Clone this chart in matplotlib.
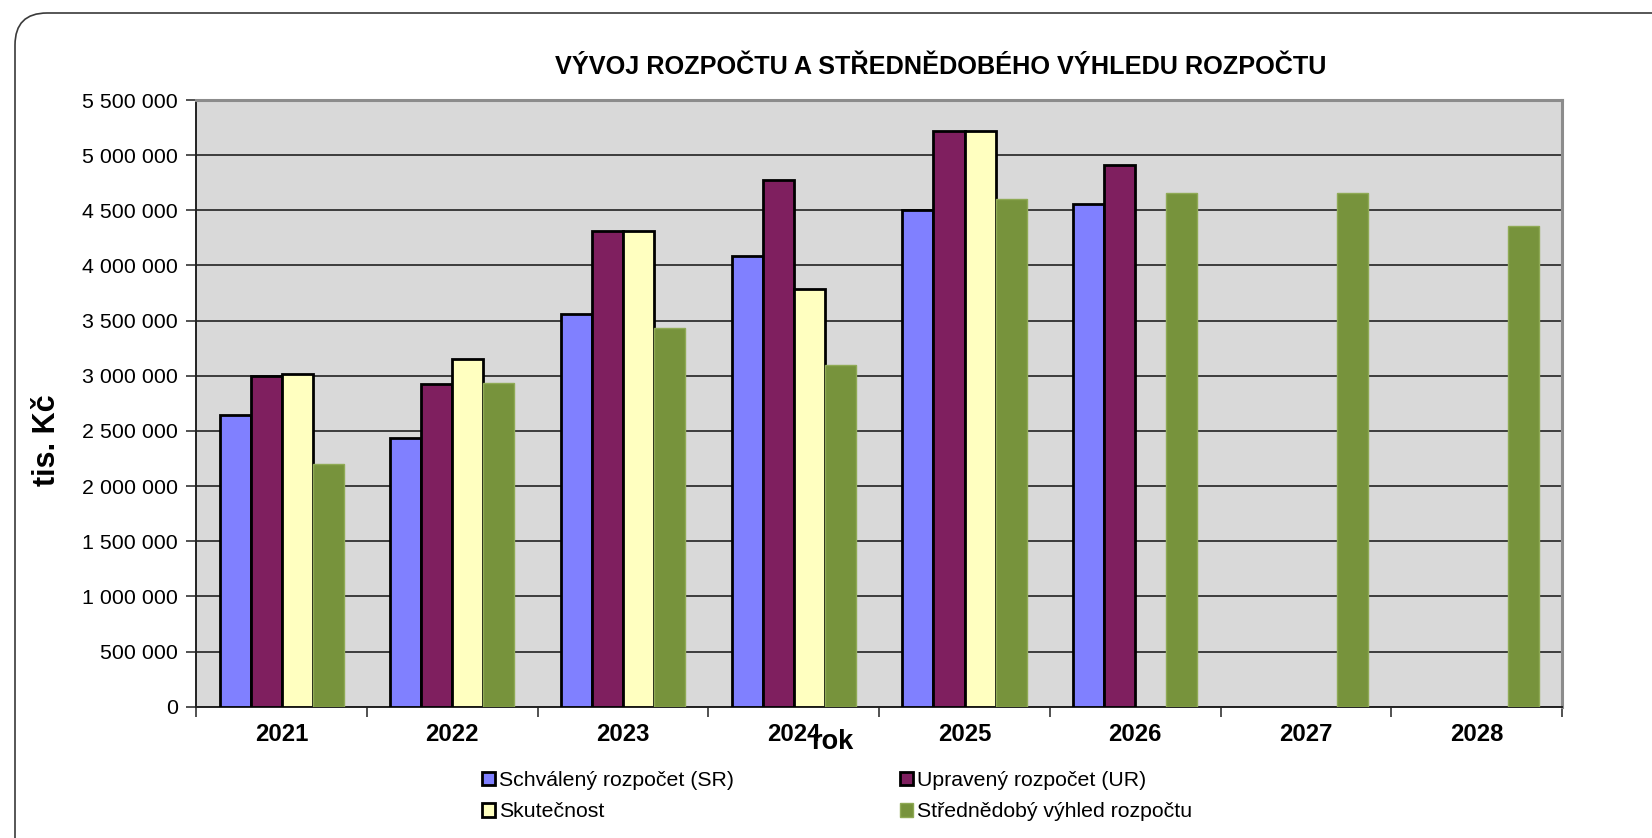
import numpy as np
import matplotlib.pyplot as plt
from matplotlib.patches import FancyBboxPatch
from matplotlib.ticker import FuncFormatter, MultipleLocator
import matplotlib.transforms as mtransforms

plt.rcParams['font.family'] = ['Liberation Sans', 'DejaVu Sans']

years = ['2021', '2022', '2023', '2024', '2025', '2026', '2027', '2028']
schvaleny = [2645000, 2436000, 3562000, 4088000, 4505000, 4554000, None, None]
upraveny = [2995000, 2928000, 4312000, 4777000, 5221000, 4910000, None, None]
skutecnost = [3013000, 3149000, 4312000, 3784000, 5221000, None, None, None]
vyhled = [2197000, 2934000, 3433000, 3097000, 4605000, 4659000, 4659000, 4360000]

series = [
    ("Schválený rozpočet (SR)", schvaleny, "#8080FF", "black"),
    ("Upravený rozpočet (UR)", upraveny, "#7F1F5F", "black"),
    ("Skutečnost", skutecnost, "#FFFFC0", "black"),
    ("Střednědobý výhled rozpočtu", vyhled, "#77933C", "#8FAA55"),
]

W, H = 1652, 838
fig = plt.figure(figsize=(W / 100, H / 100), dpi=100)

# rounded frame around the chart
frame = FancyBboxPatch((15, -60), 1750, 838 - 13 + 60, boxstyle="round,pad=0,rounding_size=32",
                       transform=mtransforms.IdentityTransform(), facecolor="none",
                       edgecolor="#3a3a3a", linewidth=1.2)
fig.add_artist(frame)

ax = fig.add_axes([196.3 / W, 1 - 706.7 / H, (1562 - 196.3) / W, (706.7 - 100) / H])
ax.set_facecolor("#D9D9D9")

x = np.arange(len(years))
w = 1 / 5.5
handles = []
for i, (name, vals, col, ec) in enumerate(series):
    v = np.array([np.nan if a is None else a for a in vals], dtype=float)
    lw = 2.0 if ec == "black" else 1.0
    b = ax.bar(x + (i - 1.5) * w, v, w, color=col, edgecolor=ec, linewidth=lw, zorder=3, label=name)
    handles.append(b)

ax.set_xlim(-0.5, len(years) - 0.5)
ax.set_ylim(0, 5500000)
ax.yaxis.set_major_locator(MultipleLocator(500000))
ax.yaxis.set_major_formatter(FuncFormatter(lambda v, p: f"{int(v):,}".replace(",", " ")))
ax.grid(axis='y', color="#3c3c3c", linewidth=1.4, zorder=1)
ax.tick_params(axis='y', labelsize=15.4, length=7, width=1.2, color="#333333", pad=6)

ax.set_xticks(x)
ax.set_xticklabels(years, fontweight='bold', fontsize=17.2)
ax.tick_params(axis='x', length=0, pad=12)
ax.set_xticks(np.arange(len(years) + 1) - 0.5, minor=True)
ax.tick_params(axis='x', which='minor', length=7, width=1.2, color="#333333")

for s in ['top', 'right']:
    ax.spines[s].set_color("#8c8c8c")
    ax.spines[s].set_linewidth(2.2)
for s in ['left', 'bottom']:
    ax.spines[s].set_color("#222222")
    ax.spines[s].set_linewidth(1.4)

fig.text(941 / W, 1 - 67 / H, "VÝVOJ ROZPOČTU A STŘEDNĚDOBÉHO VÝHLEDU ROZPOČTU",
         ha='center', va='center', fontsize=18.2, fontweight='bold')
fig.text(47 / W, 1 - 440 / H, "tis. Kč", rotation=90, ha='center', va='center',
         fontsize=22, fontweight='bold')
fig.text(832 / W, 1 - 742 / H, "rok", ha='center', va='center', fontsize=19.5, fontweight='bold')

order = [handles[0], handles[2], handles[1], handles[3]]
leg = fig.legend(order, [h.get_label() for h in order], ncol=2, loc='upper left',
                 bbox_to_anchor=(482 / W, 1 - 771 / H), frameon=False, fontsize=15.3,
                 handlelength=0.6, handleheight=0.6, handletextpad=0.2,
                 columnspacing=7.8, labelspacing=0.58, borderaxespad=0, borderpad=0)

fig.savefig("out.png", dpi=100)
